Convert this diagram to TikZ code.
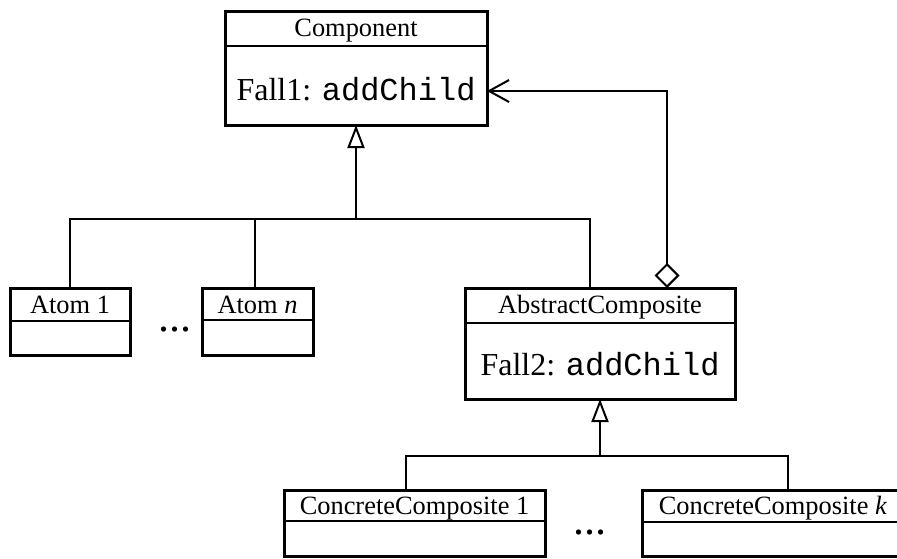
\documentclass[tikz,border=0pt]{standalone}
\usepackage{fontspec}
\setmainfont{Liberation Serif}
\setmonofont{Liberation Mono}
\usetikzlibrary{arrows.meta,positioning}

\begin{document}
\begin{tikzpicture}[x=0.5pt, y=-0.5pt,
    umlbox/.style={draw, rectangle, line width=1.5pt, inner sep=0pt, outer sep=0pt},
    divider/.style={line width=0.7pt},
    classname/.style={font=\fontsize{13.2}{15}\selectfont, inner sep=0pt, anchor=base},
    method/.style={font=\fontsize{16}{18}\selectfont, inner sep=0pt, anchor=base},
    dots/.style={font=\fontsize{22}{24}\selectfont, inner sep=0pt},
    conn/.style={line width=1pt},
    inherit/.style={conn, -{Triangle[open, length=11.5pt, width=8.5pt]}},
    aggr/.style={conn, {Diamond[open, length=12.5pt, width=12.5pt]}-{Straight Barb[length=10pt, width=11pt]}}]

\clip (0,0) rectangle (897,558);

% classes
\node[umlbox, minimum width=131pt, minimum height=57pt] (component) at (356,68) {};
\node[umlbox, minimum width=60pt, minimum height=33.5pt] (atom1) at (70,321.5) {};
\node[umlbox, minimum width=55.5pt, minimum height=33.5pt] (atomn) at (257.5,321.5) {};
\node[umlbox, minimum width=135pt, minimum height=55.5pt] (abstract) at (600,343.5) {};
\node[umlbox, minimum width=130.5pt, minimum height=33pt] (cc1) at (414.5,523) {};
\node[umlbox, minimum width=130.5pt, minimum height=33pt] (cck) at (773,523) {};

% compartments
\draw[divider] ([yshift=-17.5pt]component.north west) -- ([yshift=-17.5pt]component.north east);
\draw[divider] ([yshift=-16.5pt]atom1.north west) -- ([yshift=-16.5pt]atom1.north east);
\draw[divider] ([yshift=-16pt]atomn.north west) -- ([yshift=-16pt]atomn.north east);
\draw[divider] ([yshift=-17.5pt]abstract.north west) -- ([yshift=-17.5pt]abstract.north east);
\draw[divider] ([yshift=-15.5pt]cc1.north west) -- ([yshift=-15.5pt]cc1.north east);
\draw[divider] ([yshift=-16pt]cck.north west) -- ([yshift=-16pt]cck.north east);

% names and methods
\node[classname] (component-name) at ([yshift=-12.5pt]component.north) {Component};
\node[method] (component-op) at ([yshift=-44.5pt]component.north) {Fall1: \texttt{addChild}};
\node[classname] (atom1-name) at ([yshift=-12.5pt]atom1.north) {Atom 1};
\node[classname] (atomn-name) at ([yshift=-12.5pt]atomn.north) {Atom \textit{n}};
\node[classname] (abstract-name) at ([yshift=-12.5pt]abstract.north) {AbstractComposite};
\node[method] (abstract-op) at ([yshift=-43.5pt]abstract.north) {Fall2: \texttt{addChild}};
\node[classname] (cc1-name) at ([yshift=-12pt]cc1.north) {ConcreteComposite 1};
\node[classname] (cck-name) at ([yshift=-12pt]cck.north) {ConcreteComposite \textit{k}};

\node[dots] (atom-dots) at (175,330) {...};
\node[dots] (cc-dots) at (590,533) {...};

% generalisation
\coordinate (bus1) at (356,219);
\coordinate (bus2) at (600,456);
\draw[conn] (atom1.north) |- (bus1) -| ([xshift=-5pt]abstract.north);
\draw[conn] ([xshift=-1.5pt]atomn.north) -- ([xshift=-1.5pt]atomn.north |- bus1);
\draw[inherit] (bus1) -- (component.south);
\draw[conn] ([xshift=-4.25pt]cc1.north) |- (bus2) -| ([xshift=7.5pt]cck.north);
\draw[inherit] (bus2) -- (abstract.south);

% aggregation
\draw[aggr] ([xshift=33.5pt]abstract.north) |- ([yshift=-11.5pt]component.east);
\end{tikzpicture}
\end{document}
